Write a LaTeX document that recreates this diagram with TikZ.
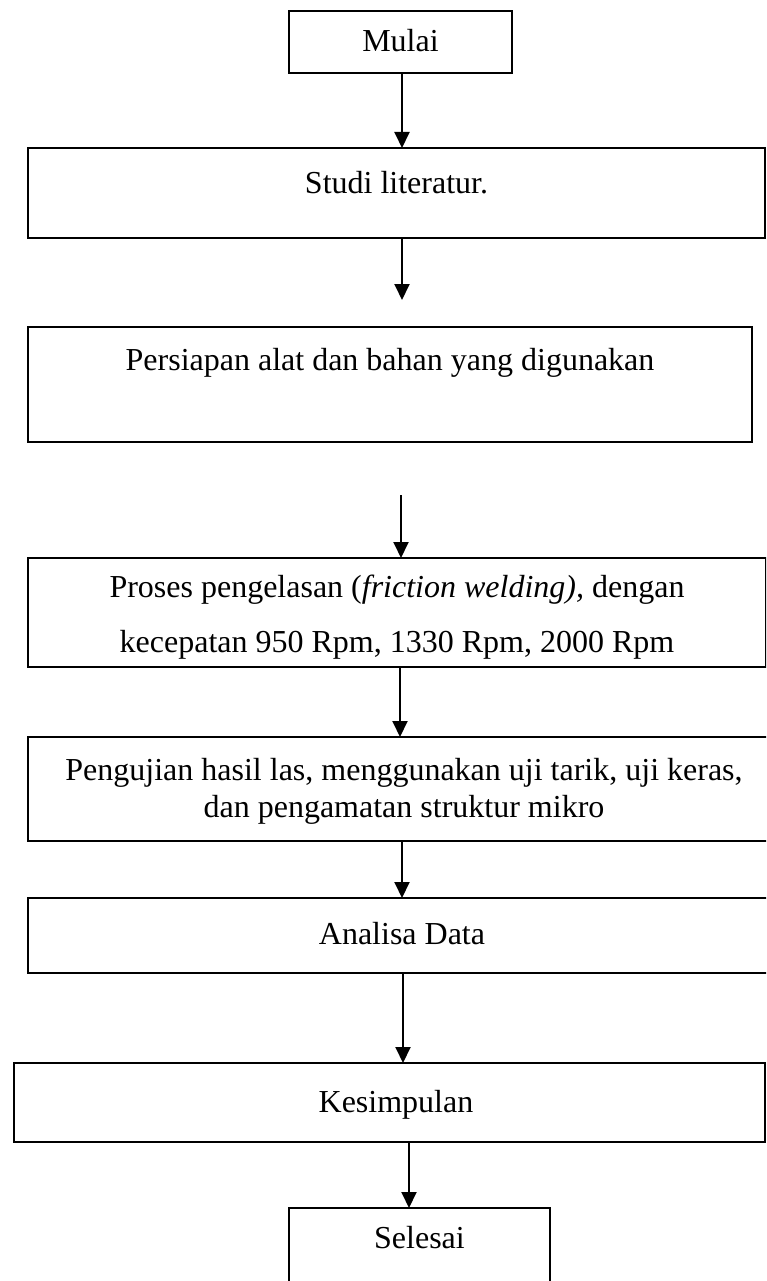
\documentclass[tikz,border=0pt]{standalone}
\usepackage{fontspec}
\setmainfont{Liberation Serif}
\usetikzlibrary{arrows.meta}
\begin{document}
\begin{tikzpicture}[x=1pt,y=-1pt,
  box/.style={draw, line width=1.9pt, inner sep=0pt, outer sep=0pt},
  txt/.style={font=\fontsize{32}{35}\selectfont, inner sep=0pt, anchor=base},
  arr/.style={line width=1.9pt, -{Triangle[length=16pt,width=15pt]}}]
\useasboundingbox (0,0) rectangle (766,1281);
\clip (0,0) rectangle (766,1281);
\fill[white] (0,0) rectangle (766,1281);
% boxes
\node[box, minimum width=223pt, minimum height=62pt] (mulai) at (400.5,42) {};
\node[box, minimum width=737pt, minimum height=90pt] (studi) at (396.5,193) {};
\node[box, minimum width=724pt, minimum height=115pt] (persiapan) at (390,384.5) {};
\node[box, minimum width=738pt, minimum height=109pt] (proses) at (397,612.5) {};
\node[box, minimum width=754pt, minimum height=104pt] (pengujian) at (405,789) {};
\node[box, minimum width=754pt, minimum height=75pt] (analisa) at (405,935.5) {};
\node[box, minimum width=751pt, minimum height=79pt] (kesimpulan) at (389.5,1102.5) {};
\node[box, minimum width=261pt, minimum height=87pt] (selesai) at (419.5,1251.5) {};
% texts
\node[txt] (tmulai) at (400.5,52) {Mulai};
\node[txt] (tstudi) at (396.5,194) {Studi literatur.};
\node[txt] (tpersiapan) at (390,370) {Persiapan alat dan bahan yang digunakan};
\node[txt] (tproses1) at (397,597) {Proses pengelasan (\textit{friction welding),}\ dengan};
\node[txt] (tproses2) at (397,652) {kecepatan 950 Rpm, 1330 Rpm, 2000 Rpm};
\node[txt] (tpeng1) at (404,780) {Pengujian hasil las, menggunakan uji tarik, uji keras,};
\node[txt] (tpeng2) at (404,817) {dan pengamatan struktur mikro};
\node[txt] (tanalisa) at (402,944) {Analisa Data};
\node[txt] (tkesimpulan) at (396,1112) {Kesimpulan};
\node[txt] (tselesai) at (419.5,1248) {Selesai};
% connectors
\coordinate (a2end) at (402,300);
\coordinate (a3start) at (401,495);
\draw[arr] (mulai.south -| 402,0) -- (studi.north -| 402,0);
\draw[arr] (studi.south -| a2end) -- (a2end);
\draw[arr] (a3start) -- (proses.north -| a3start);
\draw[arr] (proses.south -| 400,0) -- (pengujian.north -| 400,0);
\draw[arr] (pengujian.south -| 402,0) -- (analisa.north -| 402,0);
\draw[arr] (analisa.south -| 403,0) -- (kesimpulan.north -| 403,0);
\draw[arr] (kesimpulan.south -| 409,0) -- (selesai.north -| 409,0);
\end{tikzpicture}
\end{document}
